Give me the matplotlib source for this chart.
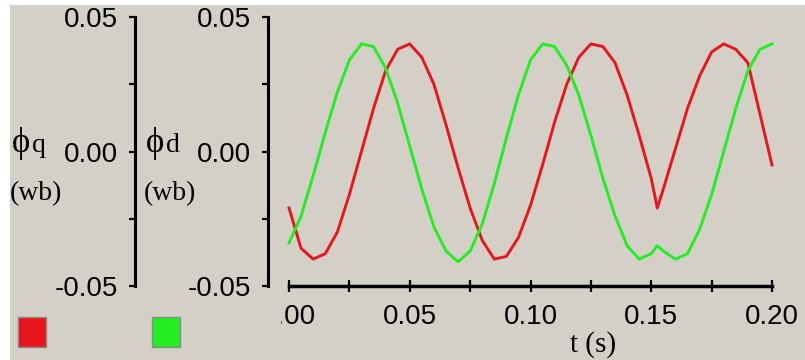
import matplotlib.pyplot as plt
from matplotlib.patches import Rectangle
from matplotlib.transforms import Bbox, TransformedBbox

# time samples (s) and flux linkages (wb)
t = [0.000, 0.005, 0.010, 0.015, 0.020, 0.025, 0.030, 0.035, 0.040, 0.045,
     0.050, 0.055, 0.060, 0.065, 0.070, 0.075, 0.080, 0.085, 0.090, 0.095,
     0.100, 0.105, 0.110, 0.115, 0.120, 0.125, 0.130, 0.135, 0.140, 0.145,
     0.150, 0.1525, 0.155, 0.160, 0.165, 0.170, 0.175, 0.180, 0.185, 0.190,
     0.195, 0.200]
phi_q = [-0.021, -0.036, -0.040, -0.038, -0.030, -0.016, 0.000, 0.016, 0.030, 0.038,
         0.040, 0.035, 0.025, 0.010, -0.006, -0.021, -0.033, -0.040, -0.039, -0.032,
         -0.020, -0.005, 0.011, 0.025, 0.035, 0.040, 0.039, 0.033, 0.021, 0.006,
         -0.010, -0.021, -0.014, 0.001, 0.016, 0.028, 0.037, 0.040, 0.038, 0.033,
         0.014, -0.005]
phi_d = [-0.034, -0.024, -0.009, 0.007, 0.022, 0.034, 0.040, 0.039, 0.031, 0.018,
         0.002, -0.014, -0.028, -0.037, -0.041, -0.037, -0.027, -0.012, 0.005, 0.021,
         0.034, 0.040, 0.039, 0.032, 0.021, 0.006, -0.010, -0.024, -0.035, -0.040,
         -0.038, -0.035, -0.037, -0.040, -0.038, -0.029, -0.016, 0.000, 0.016, 0.030,
         0.038, 0.040]

x_ticks = [0.0, 0.05, 0.10, 0.15, 0.20]
x_labels = ['0.00', '0.05', '0.10', '0.15', '0.20']
y_ticks = [-0.05, 0.0, 0.05]
y_labels = ['-0.05', '0.00', '0.05']

W, H = 805, 360
BG = '#d4d0c8'
RED = '#e8161c'
GREEN = '#22ee22'
SANS = 'Liberation Sans'
SERIF = 'Liberation Serif'


def fx(px):
    return px / W


def fy(py):
    return 1 - py / H


fig = plt.figure(figsize=(W / 100, H / 100), dpi=100, facecolor='white')
fig.patches.append(Rectangle((fx(10), 0), 1, fy(5), transform=fig.transFigure,
                             facecolor=BG, edgecolor='none', zorder=-10))

top, bot = 17, 286

# plotting area with the time axis
ax = fig.add_axes([fx(289), fy(bot), fx(772) - fx(289), fy(top) - fy(bot)])
ax.set_facecolor('none')
ax.plot(t, phi_q, color=RED, lw=2.1, clip_on=False)
ax.plot(t, phi_d, color=GREEN, lw=2.1, clip_on=False)
ax.set_xlim(0, 0.2)
ax.set_ylim(-0.05, 0.05)
for s in ['top', 'left', 'right']:
    ax.spines[s].set_visible(False)
ax.spines['bottom'].set_linewidth(2.5)
ax.set_yticks([])
ax.set_xticks(x_ticks)
ax.set_xticklabels(x_labels, fontsize=20, family=SANS)
ax.set_xticks([0.025, 0.075, 0.125, 0.175], minor=True)
ax.tick_params(axis='x', which='both', direction='inout', length=9, width=1.6, pad=8.5)
clip = TransformedBbox(Bbox.from_extents(fx(281), 0, 1, 1), fig.transFigure)
for lab in ax.get_xticklabels():
    lab.set_clip_on(True)
    lab.set_clip_box(clip)

fig.text(fx(593), fy(345), 't (s)', ha='center', va='center', fontsize=21, family=SERIF)

# the two vertical scales
for xpos, sub, lx in [(135, 'q', 12), (268, 'd', 146)]:
    ay = fig.add_axes([fx(xpos), fy(bot), 0.0005, fy(top) - fy(bot)])
    ay.set_facecolor('none')
    for s in ['top', 'bottom', 'right']:
        ay.spines[s].set_visible(False)
    ay.spines['left'].set_linewidth(2.2)
    ay.set_ylim(-0.05, 0.05)
    ay.set_xticks([])
    ay.set_yticks(y_ticks)
    ay.set_yticklabels(y_labels, fontsize=20, family=SANS)
    ay.set_yticks([-0.025, 0.025], minor=True)
    ay.tick_params(axis='y', which='both', direction='out', length=4.5, width=1.6, pad=8)

    fig.text(fx(lx), fy(152), 'ϕ', ha='left', va='baseline', fontsize=25, family=SERIF)
    fig.text(fx(lx + 20), fy(152), sub, ha='left', va='baseline', fontsize=20, family=SERIF)
    fig.text(fx(lx - 2), fy(200), '(wb)', ha='left', va='baseline', fontsize=20, family=SERIF)

# colour keys
for x0, col in [(18, RED), (152, GREEN)]:
    fig.patches.append(Rectangle((fx(x0), fy(347)), 28 / W, 30 / H, transform=fig.transFigure,
                                 facecolor=col, edgecolor='#8a8a8a', lw=1.0))

fig.savefig('out.png', dpi=100, facecolor=fig.get_facecolor())
